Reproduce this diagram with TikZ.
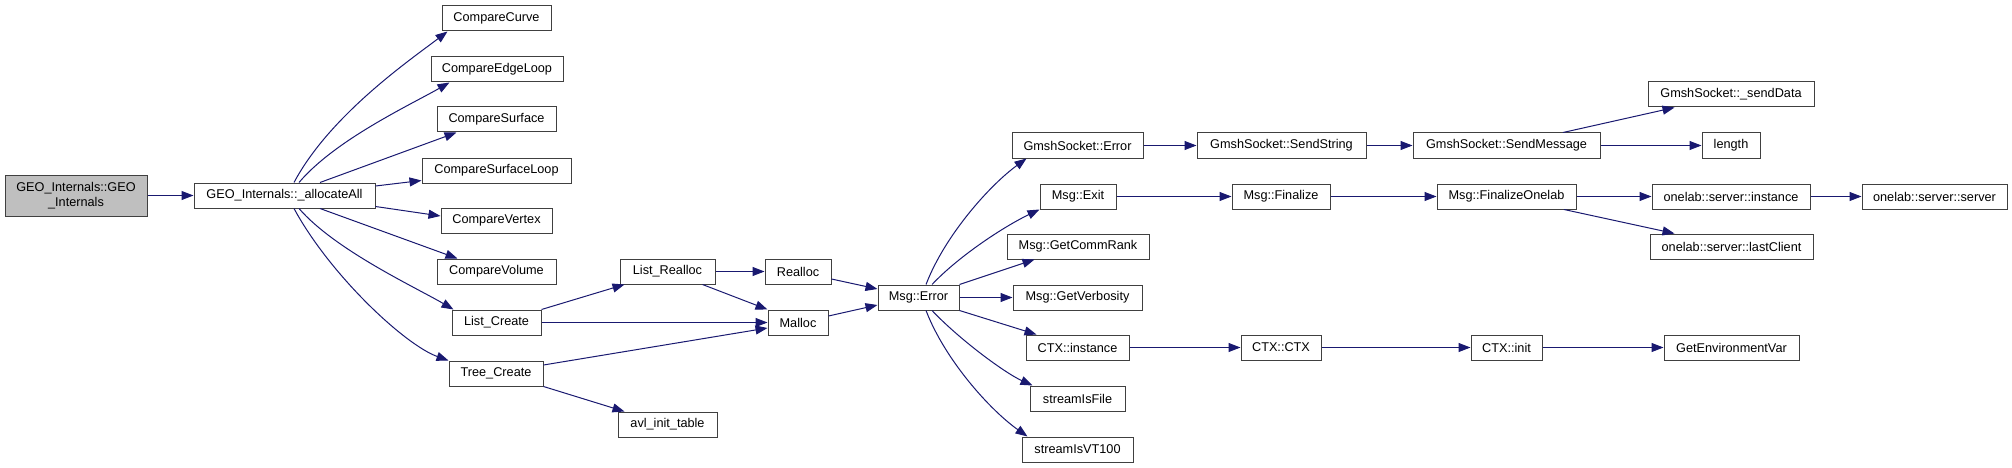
\documentclass[tikz,border=0pt]{standalone}
\usepackage{fontspec}
\setmainfont{Liberation Sans}
\usetikzlibrary{arrows.meta}
\definecolor{edgec}{RGB}{25,25,112}
\definecolor{borderc}{RGB}{64,64,64}
\definecolor{rootfill}{RGB}{191,191,191}
\newcommand{\gnode}[7][]{\node[fn,#1,minimum width={#5-#3},minimum height={#6-#4}] (#2) at ({(#3+#5)/2},{(#4+#6)/2}) {#7};}
\tikzset{
  fn/.style={draw=borderc, line width=1pt, fill=white, inner sep=0pt, font=\fontsize{12.7}{15}\selectfont, align=center},
  rootnode/.style={fill=rootfill},
  edge/.style={draw=edgec, line width=1pt, -{Triangle[length=12pt,width=9pt]}}
}
\begin{document}
\begin{tikzpicture}[x=1pt,y=-1pt]
\useasboundingbox (0,0) rectangle (2012,468);
\gnode[rootnode]{root}{5}{175}{147}{216}{GEO\_Internals::GEO\\\_Internals}
\gnode{all}{194}{183}{375}{208}{GEO\_Internals::\_allocateAll}
\gnode{cc}{442}{6}{551}{31}{CompareCurve}
\gnode{cel}{431}{57}{563}{82}{CompareEdgeLoop}
\gnode{cs}{437}{107}{556}{132}{CompareSurface}
\gnode{csl}{422}{158}{571}{183}{CompareSurfaceLoop}
\gnode{cv}{441}{208}{552}{233}{CompareVertex}
\gnode{cvol}{437}{259}{556}{284}{CompareVolume}
\gnode{lc}{452}{310}{541}{335}{List\_Create}
\gnode{tc}{449}{361}{543}{386}{Tree\_Create}
\gnode{lr}{620}{259}{715}{284}{List\_Realloc}
\gnode{avl}{618}{412}{717}{437}{avl\_init\_table}
\gnode{re}{765}{259}{831}{284}{Realloc}
\gnode{ma}{768}{310}{828}{335}{Malloc}
\gnode{me}{878}{285}{959}{310}{Msg::Error}
\gnode{gse}{1012}{133}{1143}{158}{GmshSocket::Error}
\gnode{mex}{1040}{184}{1116}{209}{Msg::Exit}
\gnode{gcr}{1007}{234}{1149}{259}{Msg::GetCommRank}
\gnode{gv}{1013}{285}{1142}{310}{Msg::GetVerbosity}
\gnode{ci}{1026}{335}{1129}{360}{CTX::instance}
\gnode{sif}{1030}{386}{1125}{411}{streamIsFile}
\gnode{svt}{1022}{437}{1133}{462}{streamIsVT100}
\gnode{ss}{1197}{133}{1366}{158}{GmshSocket::SendString}
\gnode{sm}{1413}{133}{1600}{158}{GmshSocket::SendMessage}
\gnode{mf}{1232}{184}{1330}{209}{Msg::Finalize}
\gnode{mfo}{1437}{184}{1576}{209}{Msg::FinalizeOnelab}
\gnode{sd}{1648}{82}{1814}{107}{GmshSocket::\_sendData}
\gnode{len}{1702}{133}{1760}{158}{length}
\gnode{osi}{1652}{184}{1810}{209}{onelab::server::instance}
\gnode{oss}{1862}{184}{2007}{209}{onelab::server::server}
\gnode{olc}{1650}{234}{1813}{259}{onelab::server::lastClient}
\gnode{ctx}{1241}{335}{1321}{360}{CTX::CTX}
\gnode{cin}{1471}{335}{1542}{360}{CTX::init}
\gnode{gev}{1664}{335}{1799}{360}{GetEnvironmentVar}
% edges
\draw[edge] (root.east) -- (all.west);
\draw[edge] ([xshift=9.5pt]all.north) .. controls (330,115) and (410,60) .. ([xshift=6pt]cc.south west);
\draw[edge] ([xshift=14.5pt]all.north) .. controls (335,140) and (410,105) .. ([xshift=19pt]cel.south west);
\draw[edge] ([xshift=35.5pt]all.north) -- ([xshift=20pt]cs.south west);
\draw[edge] ([yshift=9.5pt]all.east) -- ([yshift=-10pt]csl.west);
\draw[edge] ([yshift=-11pt]all.east) -- ([yshift=4.5pt]cv.west);
\draw[edge] ([xshift=35.5pt]all.south) -- ([xshift=21pt]cvol.north west);
\draw[edge] ([xshift=14.5pt]all.south) .. controls (335,250) and (415,287) .. ([xshift=2pt]lc.north west);
\draw[edge] ([xshift=9.5pt]all.south) .. controls (330,275) and (405,345) .. (tc.north west);
\draw[edge] (lc.north east) -- ([xshift=5pt]lr.south west);
\draw[edge] (lc.east) -- (ma.west);
\draw[edge] (lr.east) -- (re.west);
\draw[edge] ([xshift=-13pt]lr.south east) -- (ma.north west);
\draw[edge] ([yshift=8.5pt]tc.east) -- ([yshift=-5.5pt]ma.west);
\draw[edge] (tc.south east) -- ([xshift=7pt]avl.north west);
\draw[edge] ([yshift=-7.5pt]re.east) -- ([yshift=8.5pt]me.west);
\draw[edge] ([yshift=6.5pt]ma.east) -- ([yshift=-7.5pt]me.west);
\draw[edge] ([xshift=7.5pt]me.north) .. controls (945,235) and (990,185) .. ([xshift=15pt]gse.south west);
\draw[edge] ([xshift=13.5pt]me.north) .. controls (960,255) and (1005,226) .. (mex.south west);
\draw[edge] (me.north east) -- ([xshift=28pt]gcr.south west);
\draw[edge] (me.east) -- (gv.west);
\draw[edge] (me.south east) -- ([xshift=11pt]ci.north west);
\draw[edge] ([xshift=13.5pt]me.south) .. controls (960,340) and (1005,373) .. ([xshift=3pt]sif.north west);
\draw[edge] ([xshift=7.5pt]me.south) .. controls (945,360) and (990,410) .. ([xshift=6pt]svt.north west);
\draw[edge] (gse.east) -- (ss.west);
\draw[edge] (ss.east) -- (sm.west);
\draw[edge] (sm.east) -- (len.west);
\draw[edge] ([xshift=56.5pt]sm.north) -- ([xshift=27pt]sd.south west);
\draw[edge] (mex.east) -- (mf.west);
\draw[edge] (mf.east) -- (mfo.west);
\draw[edge] (mfo.east) -- (osi.west);
\draw[edge] ([xshift=57.5pt]mfo.south) -- ([xshift=25pt]olc.north west);
\draw[edge] (osi.east) -- (oss.west);
\draw[edge] (ci.east) -- (ctx.west);
\draw[edge] (ctx.east) -- (cin.west);
\draw[edge] (cin.east) -- (gev.west);
\end{tikzpicture}
\end{document}
